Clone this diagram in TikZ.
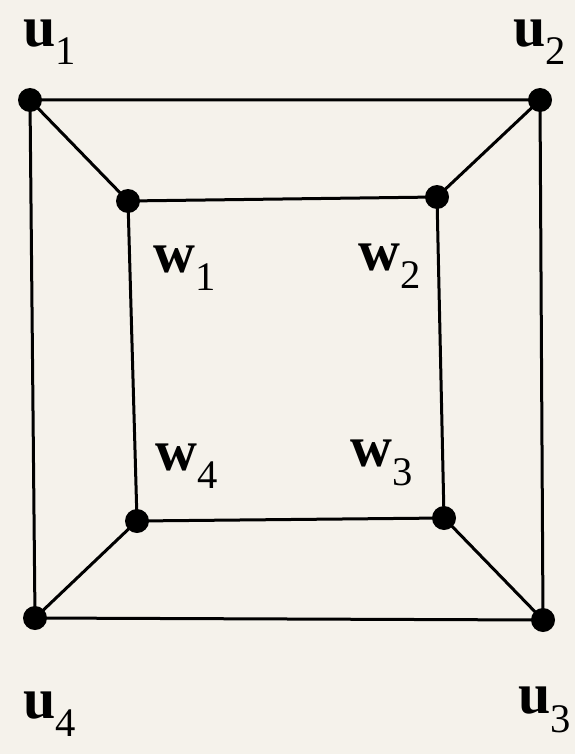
\documentclass[tikz,border=0pt]{standalone}
\usepackage{fontspec}
\setmainfont{Liberation Serif}
\definecolor{bg}{HTML}{F5F2EB}
\begin{document}
\begin{tikzpicture}[x=1pt,y=-1pt,
  vert/.style={circle,fill=black,inner sep=0pt,minimum size=24pt},
  edge/.style={line width=3pt},
  lab/.style={inner sep=0pt,font=\fontsize{58}{66}\selectfont}]
\fill[bg] (0,0) rectangle (575,754);
\useasboundingbox (0,0) rectangle (575,754);
\node[vert] (u1) at (30,100) {};
\node[vert] (u2) at (540,100) {};
\node[vert] (u3) at (543,620) {};
\node[vert] (u4) at (35,618) {};
\node[vert] (w1) at (128,201) {};
\node[vert] (w2) at (437,197) {};
\node[vert] (w3) at (444,518) {};
\node[vert] (w4) at (137,521) {};
\draw[edge] (u1.center) -- (u2.center) -- (u3.center) -- (u4.center) -- cycle;
\draw[edge] (w1.center) -- (w2.center) -- (w3.center) -- (w4.center) -- cycle;
\draw[edge] (u1.center) -- (w1.center);
\draw[edge] (u2.center) -- (w2.center);
\draw[edge] (u3.center) -- (w3.center);
\draw[edge] (u4.center) -- (w4.center);
\node[lab] (lu1) at (50,42) {\textbf{u}$_{\mathrm{1}}$};
\node[lab] (lu2) at (540,42) {\textbf{u}$_{\mathrm{2}}$};
\node[lab] (lu3) at (545,710) {\textbf{u}$_{\mathrm{3}}$};
\node[lab] (lu4) at (50,714) {\textbf{u}$_{\mathrm{4}}$};
\node[lab] (lw1) at (185,268) {\textbf{w}$_{\mathrm{1}}$};
\node[lab] (lw2) at (390,266) {\textbf{w}$_{\mathrm{2}}$};
\node[lab] (lw3) at (382,463) {\textbf{w}$_{\mathrm{3}}$};
\node[lab] (lw4) at (187,466) {\textbf{w}$_{\mathrm{4}}$};
\end{tikzpicture}
\end{document}
